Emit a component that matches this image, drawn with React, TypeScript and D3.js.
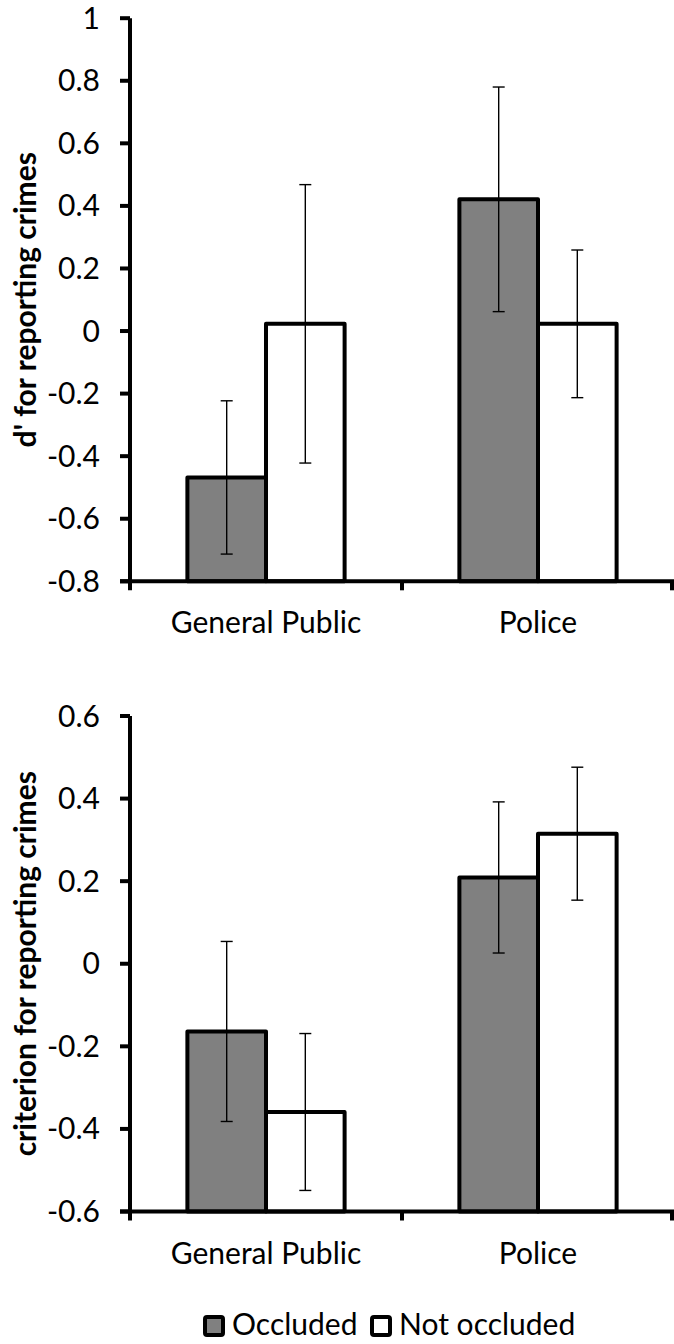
import { useEffect, useRef } from "react";
import * as d3 from "d3";

const categories = ["General Public", "Police"];
const series = ["Occluded", "Not occluded"];
const seriesFill = ["#808080", "#ffffff"];

// d' panel
const dPrimeOccluded = [-0.468, 0.421];
const dPrimeNotOccluded = [0.023, 0.023];
const dPrimeErrOccluded = [0.245, 0.359];
const dPrimeErrNotOccluded = [0.445, 0.236];
const dPrimeTicks = [-0.8, -0.6, -0.4, -0.2, 0, 0.2, 0.4, 0.6, 0.8, 1];

// criterion panel
const critOccluded = [-0.164, 0.209];
const critNotOccluded = [-0.359, 0.315];
const critErrOccluded = [0.218, 0.183];
const critErrNotOccluded = [0.19, 0.161];
const critTicks = [-0.6, -0.4, -0.2, 0, 0.2, 0.4, 0.6];

const FONT = "Lato, 'Open Sans', sans-serif";

const App = () => {
  const svgRef = useRef<SVGSVGElement>(null);

  useEffect(() => {
    const svg = d3.select(svgRef.current).attr("width", 674).attr("height", 1344);
    svg.selectAll("*").remove();

    const left = 130;
    const right = 674;

    const x = d3.scaleBand().domain(categories).range([left, right]).padding(0);
    const xInner = d3.scaleBand().domain(series).range([0, x.bandwidth()]).paddingInner(0).paddingOuter(0.73);

    const drawPanel = (
      top: number,
      bottom: number,
      domain: [number, number],
      ticks: number[],
      occ: number[],
      notOcc: number[],
      errOcc: number[],
      errNotOcc: number[],
      title: string
    ) => {
      const y = d3.scaleLinear().domain(domain).range([bottom, top]);
      const g = svg.append("g");
      const vals = [occ, notOcc];
      const errs = [errOcc, errNotOcc];

      // bars (from the axis minimum, Excel-style)
      series.forEach((s, si) => {
        g.selectAll(`.bar${si}`)
          .data(categories)
          .enter()
          .append("rect")
          .attr("x", (c) => x(c)! + xInner(s)!)
          .attr("y", (c, i) => y(vals[si][i]))
          .attr("width", xInner.bandwidth())
          .attr("height", (c, i) => bottom - y(vals[si][i]))
          .attr("fill", seriesFill[si])
          .attr("stroke", "#000")
          .attr("stroke-width", 4)
          .attr("stroke-linejoin", "round");
      });

      // error bars
      series.forEach((s, si) => {
        categories.forEach((c, i) => {
          const cx = x(c)! + xInner(s)! + xInner.bandwidth() / 2;
          const hi = y(vals[si][i] + errs[si][i]);
          const lo = y(vals[si][i] - errs[si][i]);
          g.append("line").attr("x1", cx).attr("x2", cx).attr("y1", hi).attr("y2", lo).attr("stroke", "#000").attr("stroke-width", 1.4);
          [hi, lo].forEach((yy) => {
            g.append("line").attr("x1", cx - 6).attr("x2", cx + 6).attr("y1", yy).attr("y2", yy).attr("stroke", "#000").attr("stroke-width", 1.4);
          });
        });
      });

      // y axis
      g.append("line").attr("x1", left).attr("x2", left).attr("y1", top).attr("y2", bottom + 9).attr("stroke", "#000").attr("stroke-width", 4);
      ticks.forEach((t) => {
        g.append("line").attr("x1", left - 10).attr("x2", left).attr("y1", y(t)).attr("y2", y(t)).attr("stroke", "#000").attr("stroke-width", 4);
        g.append("text")
          .attr("x", 100)
          .attr("y", y(t))
          .attr("dy", "0.35em")
          .attr("text-anchor", "end")
          .style("font-family", FONT)
          .style("font-size", "30px")
          .text(String(t));
      });

      // x axis
      g.append("line").attr("x1", left - 10).attr("x2", right).attr("y1", bottom).attr("y2", bottom).attr("stroke", "#000").attr("stroke-width", 4);
      [left + x.bandwidth(), right - 2].forEach((tx) => {
        g.append("line").attr("x1", tx).attr("x2", tx).attr("y1", bottom).attr("y2", bottom + 9).attr("stroke", "#000").attr("stroke-width", 4);
      });
      categories.forEach((c) => {
        g.append("text")
          .attr("x", x(c)! + x.bandwidth() / 2)
          .attr("y", bottom + 52)
          .attr("text-anchor", "middle")
          .style("font-family", FONT)
          .style("font-size", "30px")
          .text(c);
      });

      g.append("text")
        .attr("transform", `translate(36, ${(top + bottom) / 2}) rotate(-90)`)
        .attr("text-anchor", "middle")
        .style("font-family", FONT)
        .style("font-weight", "bold")
        .style("font-size", "30px")
        .text(title);
    };

    drawPanel(18.2, 581.3, [-0.8, 1], dPrimeTicks, dPrimeOccluded, dPrimeNotOccluded, dPrimeErrOccluded, dPrimeErrNotOccluded, "d' for reporting crimes");
    drawPanel(716, 1211.5, [-0.6, 0.6], critTicks, critOccluded, critNotOccluded, critErrOccluded, critErrNotOccluded, "criterion for reporting crimes");

    // legend
    const legendX = [205, 372];
    series.forEach((s, i) => {
      svg.append("rect")
        .attr("x", legendX[i])
        .attr("y", 1317)
        .attr("width", 18)
        .attr("height", 18)
        .attr("rx", 2)
        .attr("fill", seriesFill[i])
        .attr("stroke", "#000")
        .attr("stroke-width", 4);
      svg.append("text")
        .attr("x", legendX[i] + 27)
        .attr("y", 1335)
        .style("font-family", FONT)
        .style("font-size", "30px")
        .text(s);
    });
  }, []);

  return (
    <div style={{ position: "absolute", left: 0, top: 0 }}>
      <svg ref={svgRef} style={{ display: "block" }}></svg>
    </div>
  );
};

export default App;
